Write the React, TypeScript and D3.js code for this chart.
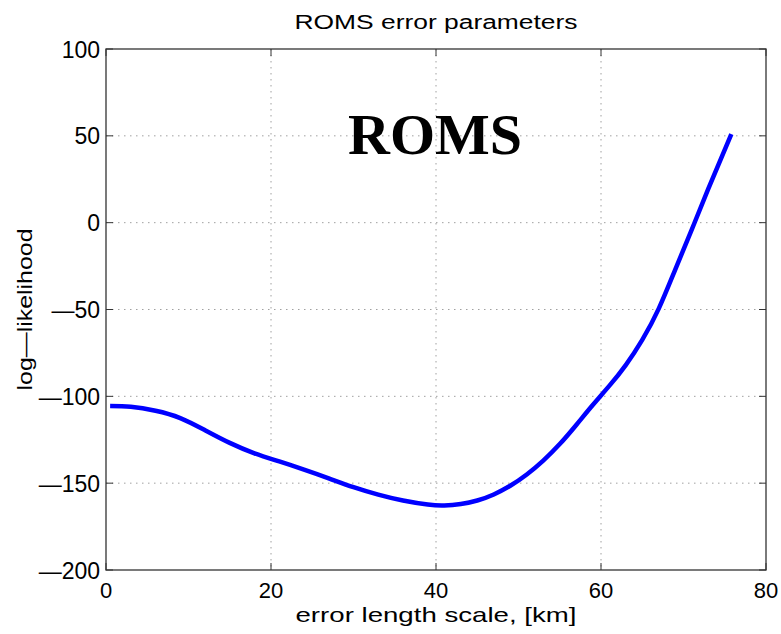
import React from "react";
import * as d3 from "d3";

const xValues = [0.5, 3, 6, 9, 12, 15, 18, 21, 24, 27, 30, 33, 36, 39, 41, 43, 45, 47, 49, 51, 53, 55, 57, 59, 61, 63, 65, 67, 69, 71, 73, 75.8];
const yValues = [-105.5, -106, -108.3, -112.5, -119.5, -126.8, -132.8, -137.5, -142.2, -147.2, -152.3, -156.6, -160, -162.3, -162.8, -162, -160, -156.5, -151.5, -145, -137, -127.5, -116.5, -105, -94, -82, -67.5, -49.5, -27, -4, 19.5, 51];
const xTicks = [0, 20, 40, 60, 80];
const yTicks = [-200, -150, -100, -50, 0, 50, 100];

const W = 781, H = 634;
const left = 106, right = 766, top = 49, bottom = 570;

function fmt(v: number) {
  return v < 0 ? "\u2014" + Math.abs(v) : String(v);
}

export default function App() {
  const x = d3.scaleLinear().domain([0, 80]).range([left, right]);
  const y = d3.scaleLinear().domain([-200, 100]).range([bottom, top]);
  const pts = xValues.map((v, i) => [v, yValues[i]] as [number, number]);
  const line = d3.line<[number, number]>().x(d => x(d[0])).y(d => y(d[1])).curve(d3.curveNatural);
  const tl = 7;
  const font = "'Liberation Sans', Arial, Helvetica, sans-serif";
  return (
    <svg width={W} height={H} style={{ position: "absolute", left: 0, top: 0, background: "#fff" }}>
      <rect x={0} y={0} width={W} height={H} fill="#fff" />
      {xTicks.slice(1, -1).map(t => (
        <line key={"gx" + t} x1={x(t)} x2={x(t)} y1={top} y2={bottom} stroke="#a0a0a0" strokeWidth={1} strokeDasharray="1.5,4.5" />
      ))}
      {yTicks.slice(1, -1).map(t => (
        <line key={"gy" + t} x1={left} x2={right} y1={y(t)} y2={y(t)} stroke="#a0a0a0" strokeWidth={1} strokeDasharray="1.5,4.5" />
      ))}
      {xTicks.map(t => (
        <g key={"tx" + t}>
          <line x1={x(t)} x2={x(t)} y1={bottom} y2={bottom - tl} stroke="#333" strokeWidth={1} />
          <line x1={x(t)} x2={x(t)} y1={top} y2={top + tl} stroke="#333" strokeWidth={1} />
          <text x={x(t)} y={598} fontSize={22} fontFamily={font} textAnchor="middle" fill="#000">{fmt(t)}</text>
        </g>
      ))}
      {yTicks.map(t => (
        <g key={"ty" + t}>
          <line x1={left} x2={left + tl} y1={y(t)} y2={y(t)} stroke="#333" strokeWidth={1} />
          <line x1={right} x2={right - tl} y1={y(t)} y2={y(t)} stroke="#333" strokeWidth={1} />
          <text x={100} y={y(t) + 8.5} fontSize={23} fontFamily={font} textAnchor="end" fill="#000">{fmt(t)}</text>
        </g>
      ))}
      <rect x={left} y={top} width={right - left} height={bottom - top} fill="none" stroke="#333" strokeWidth={1.3} />
      <path d={line(pts) || ""} fill="none" stroke="#0000ff" strokeWidth={4.5} strokeLinejoin="round" />
      <text x={348} y={154} fontSize={58} fontWeight="bold" fontFamily="'Liberation Serif', 'Times New Roman', serif" fill="#000">ROMS</text>
      <text x={436} y={29} fontSize={20} fontFamily={font} textAnchor="middle" textLength={283} lengthAdjust="spacingAndGlyphs" fill="#000">ROMS error parameters</text>
      <text x={436} y={622} fontSize={21} fontFamily={font} textAnchor="middle" textLength={281} lengthAdjust="spacingAndGlyphs" fill="#000">error length scale, [km]</text>
      <text transform={`translate(32,${(top + bottom) / 2}) rotate(-90)`} fontSize={20} fontFamily={font} textAnchor="middle" textLength={162} lengthAdjust="spacingAndGlyphs" fill="#000">log{"\u2014"}likelihood</text>
    </svg>
  );
}
